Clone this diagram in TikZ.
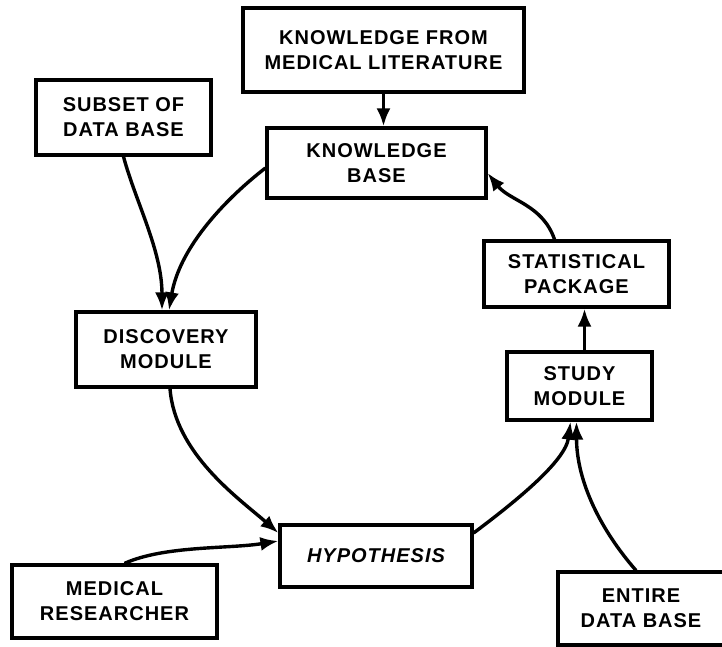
\documentclass[tikz,border=0pt]{standalone}
\usepackage{fontspec}
\setmainfont{Liberation Sans}[LetterSpace=5]
\usetikzlibrary{arrows.meta}

\begin{document}
\begin{tikzpicture}[x=1pt,y=-1pt,
	box/.style={draw,line width=3.2pt,inner sep=0pt,align=center,font=\fontsize{20}{25}\selectfont\bfseries},
	flow/.style={line width=3.4pt,-{Latex[length=18pt,width=14pt]}}]
	\useasboundingbox (0,0) rectangle (722,646);
	\node[box,minimum width=281pt,minimum height=84pt] (lit) at (383.5,50) {KNOWLEDGE FROM\\MEDICAL LITERATURE};
	\node[box,minimum width=175pt,minimum height=75pt] (subset) at (123.5,117.5) {SUBSET OF\\DATA BASE};
	\node[box,minimum width=219pt,minimum height=70pt] (kb) at (376.5,163) {KNOWLEDGE\\BASE};
	\node[box,minimum width=185pt,minimum height=66pt] (stat) at (576.5,274) {STATISTICAL\\PACKAGE};
	\node[box,minimum width=180pt,minimum height=75pt] (disc) at (166,349.5) {DISCOVERY\\MODULE};
	\node[box,minimum width=145pt,minimum height=68pt] (study) at (579.5,386) {STUDY\\MODULE};
	\node[box,minimum width=192pt,minimum height=62pt,font=\fontsize{20}{25}\selectfont\bfseries\itshape] (hypo) at (376,556) {HYPOTHESIS};
	\node[box,minimum width=205pt,minimum height=73pt] (res) at (114.5,601.5) {MEDICAL\\RESEARCHER};
	\node[box,minimum width=166pt,minimum height=73pt] (entire) at (641,608.5) {ENTIRE\\DATA BASE};
	\draw[flow] (lit.south) -- (lit.south |- kb.north);
	\draw[flow] (subset.south) .. controls +(12,45) and +(0,-60) .. ([xshift=-4pt]disc.north);
	\draw[flow] ([yshift=-5pt]kb.west) .. controls +(-45,35) and +(10,-60) .. ([xshift=3pt]disc.north);
	\draw[flow] ([xshift=-22pt]stat.north) .. controls +(-12,-35) and +(22,28) .. ([yshift=-10pt]kb.east);
	\draw[flow] ([xshift=5pt]study.north) -- ([xshift=8pt]stat.south);
	\draw[flow] ([xshift=4pt]disc.south) .. controls +(5,65) and +(-40,-35) .. ([yshift=23pt]hypo.west);
	\draw[flow] ([xshift=10pt]res.north) .. controls +(40,-18) and +(-50,8) .. ([yshift=15pt]hypo.west);
	\draw[flow] ([yshift=23pt]hypo.east) .. controls +(40,-30) and +(-5,40) .. ([xshift=-9pt]study.south);
	\draw[flow] ([xshift=-5pt]entire.north) .. controls +(-35,-40) and +(0,60) .. ([xshift=-3pt]study.south);
\end{tikzpicture}
\end{document}
